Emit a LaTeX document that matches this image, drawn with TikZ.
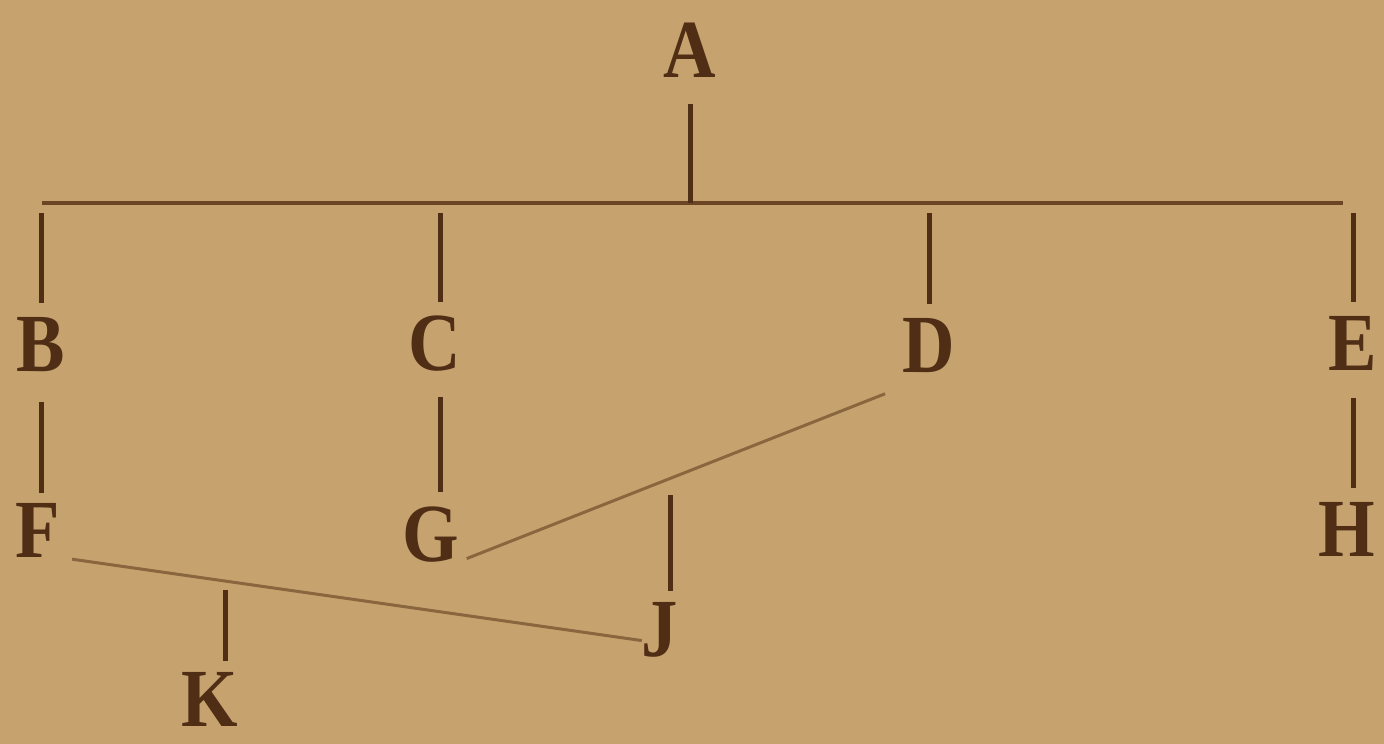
\documentclass[tikz,border=0pt]{standalone}
\usepackage{fontspec}
\setmainfont[FakeStretch=0.88]{Liberation Serif}
\usepackage{tikz}
\usetikzlibrary{calc}
\definecolor{paper}{RGB}{198,163,110}
\definecolor{ink}{RGB}{80,46,22}
\definecolor{rulebrown}{RGB}{108,70,36}
\definecolor{faint}{RGB}{138,102,62}

\begin{document}
\begin{tikzpicture}[x=0.1mm, y=-0.1mm]

\fill[paper] (0,0) rectangle (1384,744);
\useasboundingbox (0,0) rectangle (1384,744);

\tikzset{
  letter/.style={text=ink, inner sep=0pt, outer sep=0pt, text height=5.9mm,
                 text depth=0pt, font=\bfseries\fontsize{23.5}{25}\selectfont},
  stem/.style={draw=ink, line width=0.5mm},
  link/.style={draw=faint, line width=0.3mm}
}

\node[letter] (A) at (690,48)  {A};
\node[letter] (B) at (41,342)  {B};
\node[letter] (C) at (435,341) {C};
\node[letter] (D) at (929,343) {D};
\node[letter] (E) at (1353,341) {E};
\node[letter] (F) at (38,528)  {F};
\node[letter] (G) at (431,532) {G};
\node[letter] (H) at (1347,527) {H};
\node[letter] (J) at (660,627) {J};
\node[letter] (K) at (210,697) {K};

\coordinate (bl) at (42,203);
\coordinate (br) at (1343,203);
\coordinate (jtop) at (670,495);
\coordinate (ktop) at (225,590);

% the long bar and the stem from A
\draw[rulebrown, line width=0.4mm] (bl) -- (br);
\draw[stem, shorten <=2.6mm] (A) -- (A |- bl);

% hanging from the bar
\draw[stem, shorten <=1mm, shorten >=1mm] (B |- bl) -- (B);
\draw[stem, shorten <=1mm, shorten >=1mm] ([xshift=0.5mm]C |- bl) -- ([xshift=0.5mm]C.north);
\draw[stem, shorten <=1mm, shorten >=1mm] (D |- bl) -- (D);
\draw[stem, shorten <=1mm, shorten >=1mm] (E |- bl) -- (E);

% second row
\draw[stem, shorten <=3mm, shorten >=0.6mm] (B) -- (B |- F.north);
\draw[stem, shorten <=2.6mm, shorten >=1.1mm] ([xshift=0.5mm]C.south) -- ([xshift=0.5mm]C.south |- G.north);
\draw[stem, shorten <=2.7mm, shorten >=1mm] (E) -- (E |- H.north);

% cross links
\draw[link, shorten <=5.8mm, shorten >=0.8mm] ([xshift=1mm]D.south) -- (G.south east);
\draw[link, shorten <=1.2mm] (F.south east) -- ($(J.south west)!0.27!(J.north west)$);

% third row
\draw[stem, shorten >=0.7mm] (jtop) -- (jtop |- J.north);
\draw[stem, shorten >=0.7mm] (ktop) -- (ktop |- K.north);

\end{tikzpicture}
\end{document}
